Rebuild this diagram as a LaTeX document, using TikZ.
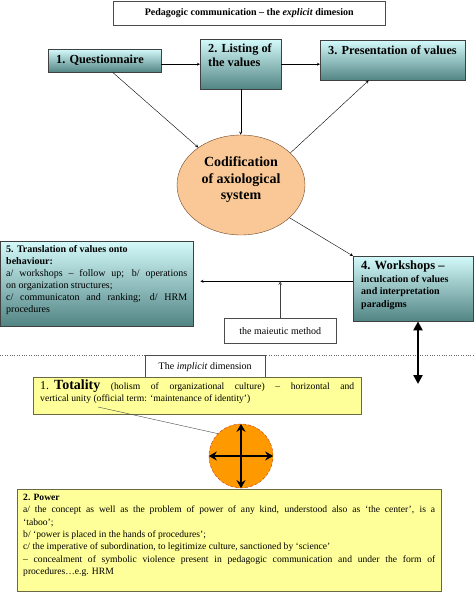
\documentclass[tikz,border=0pt]{standalone}
\usepackage{fontspec}
\setmainfont{Liberation Serif}
\usetikzlibrary{arrows.meta, shapes.geometric}
\definecolor{tealtop}{RGB}{212,250,250}
\definecolor{tealbot}{RGB}{82,132,132}
\definecolor{codiffill}{RGB}{250,200,150}
\definecolor{codifdraw}{RGB}{110,70,40}
\definecolor{centrefill}{RGB}{255,153,0}
\definecolor{centredraw}{RGB}{190,60,40}
\definecolor{implfill}{RGB}{255,255,153}
\definecolor{impldraw}{RGB}{105,105,70}
\tikzset{
  valbox/.style={draw=black!75, top color=tealtop, bottom color=tealbot, anchor=north west, inner sep=0pt},
  valtext/.style={font=\bfseries\fontsize{12.3}{14}\selectfont, align=left, inner sep=0pt, anchor=north west},
  notebox/.style={draw=black!70, fill=white, anchor=north west, inner sep=0pt, font=\fontsize{10}{12}\selectfont},
  implbox/.style={draw=impldraw, fill=implfill, anchor=north west, inner sep=0pt},
  flow/.style={->, thin}
}
\begin{document}
\begin{tikzpicture}[x=1pt, y=-1pt, >=stealth]
\useasboundingbox (0,0) rectangle (474,592);

% explicit dimension
\node[notebox, minimum width=272pt, minimum height=24pt, font=\bfseries\fontsize{10}{12}\selectfont] (title) at (113,0.5) {Pedagogic communication -- the \textit{explicit} dimesion};

\node[valbox, minimum width=113pt, minimum height=23pt] (quest) at (48,49) {};
\node[valtext, anchor=west] (questtext) at ([xshift=8pt]quest.west) {1. Questionnaire};

\node[valbox, minimum width=81pt, minimum height=50pt] (listing) at (200,39) {};
\node[valtext] (listtext) at ([shift={(8,5)}]listing.north west) {2. Listing of\\the values};

\node[valbox, minimum width=145pt, minimum height=40pt] (present) at (320,40) {};
\node[valtext] (prestext) at ([shift={(8,6)}]present.north west) {3. Presentation of values};

\node[ellipse, draw=codifdraw, fill=codiffill, minimum width=128pt, minimum height=100pt, inner sep=0pt] (codif) at (241,185) {};
\node[align=center, inner sep=0pt, font=\bfseries\fontsize{14}{16.5}\selectfont] (codiftext) at ([yshift=5pt]codif.center) {Codification\\of axiological\\system};

\node[valbox, minimum width=120pt, minimum height=65pt] (work) at (353,256) {};
\node[valtext, font=\bfseries\fontsize{10}{12.5}\selectfont] (worktext) at ([shift={(8,5)}]work.north west) {{\fontsize{12.5}{14}\selectfont 4. Workshops --}\\inculcation of values\\and interpretation\\paradigms};

\node[valbox, minimum width=193pt, minimum height=85pt] (trans) at (0,241) {};
\node[valtext, align=justify, text width=181pt, font=\fontsize{10}{12}\selectfont] (transtext) at ([shift={(6,4)}]trans.north west) {\textbf{5. Translation of values onto\\behaviour:}\\a/ workshops -- follow up; b/ operations \linebreak on organization structures;\\c/ communicaton and ranking; d/ HRM \linebreak procedures};

\node[notebox, minimum width=112pt, minimum height=25pt] (maieutic) at (224,318) {the maieutic method};

\draw[flow] (quest.south) ++(8,0) coordinate (queststart) (queststart) -- (codif);
\draw[flow] ([yshift=-3.5pt]quest.east) -- ([yshift=-3.5pt]quest.east -| listing.west);
\draw[flow] (listing.east) -- (listing.east -| present.west);
\draw[flow] (listing.south) -- (listing.south |- codif.north);
\draw[flow] (codif.33) -- ([xshift=-24pt]present.south);
\draw[flow] (codif.-34) -- (work.north west);
\coordinate (tip) at ([yshift=7.5pt]work.west);
\draw[flow, shorten >=7pt] (tip) -- (tip -| trans.east);
\draw[flow, semithick, black!75] (maieutic.north) -- (maieutic.north |- tip);

% implicit dimension
\draw[dotted, black!60] (0,355) -- (474,355);
\coordinate (thickend) at (418,384);
\draw[{Triangle[length=9pt,width=9pt]}-{Triangle[length=9pt,width=9pt]}, line width=2.5pt] (work.south -| thickend) -- (thickend);

\node[notebox, minimum width=120pt, minimum height=23pt] (implicit) at (145,355) {The \textit{implicit} dimension};

\node[implbox, minimum width=328pt, minimum height=37pt] (totality) at (33,377) {};
\node[valtext, align=justify, text width=314pt, font=\fontsize{9.6}{12}\selectfont] (tottext) at ([shift={(7,3)}]totality.north west) {{\fontsize{12}{12}\selectfont 1.\hspace{5pt}\textbf{\fontsize{14}{12}\selectfont Totality}} (holism of organizational culture) -- horizontal and \linebreak vertical unity (official term: ‘maintenance of identity’)};

\node[circle, draw=centredraw, densely dashed, fill=centrefill, minimum size=64pt, inner sep=0pt] (centre) at (241,456) {};
\coordinate (totlink) at (98,407);
\draw[black!70] (totlink) -- (centre.136);
\foreach \dir in {north, south, east, west}
  \draw[-{Stealth[length=8pt,width=9pt]}, line width=2pt] (centre.center) -- (centre.\dir);

\node[implbox, draw=impldraw, line width=1.2pt, minimum width=424pt, minimum height=102pt] (power) at (17,489) {};
\node[valtext, align=justify, text width=412pt, font=\fontsize{9.6}{12.3}\selectfont] (powertext) at ([shift={(6,5)}]power.north west) {\textbf{2. Power}\\a/ the concept as well as the problem of power of any kind, understood also as ‘the center’, is a \linebreak ‘taboo’;\\b/ ‘power is placed in the hands of procedures’;\\c/ the imperative of subordination, to legitimize culture, sanctioned by ‘science’\\-- concealment of symbolic violence present in pedagogic communication and under the form of \linebreak procedures…e.g. HRM};
\end{tikzpicture}
\end{document}
